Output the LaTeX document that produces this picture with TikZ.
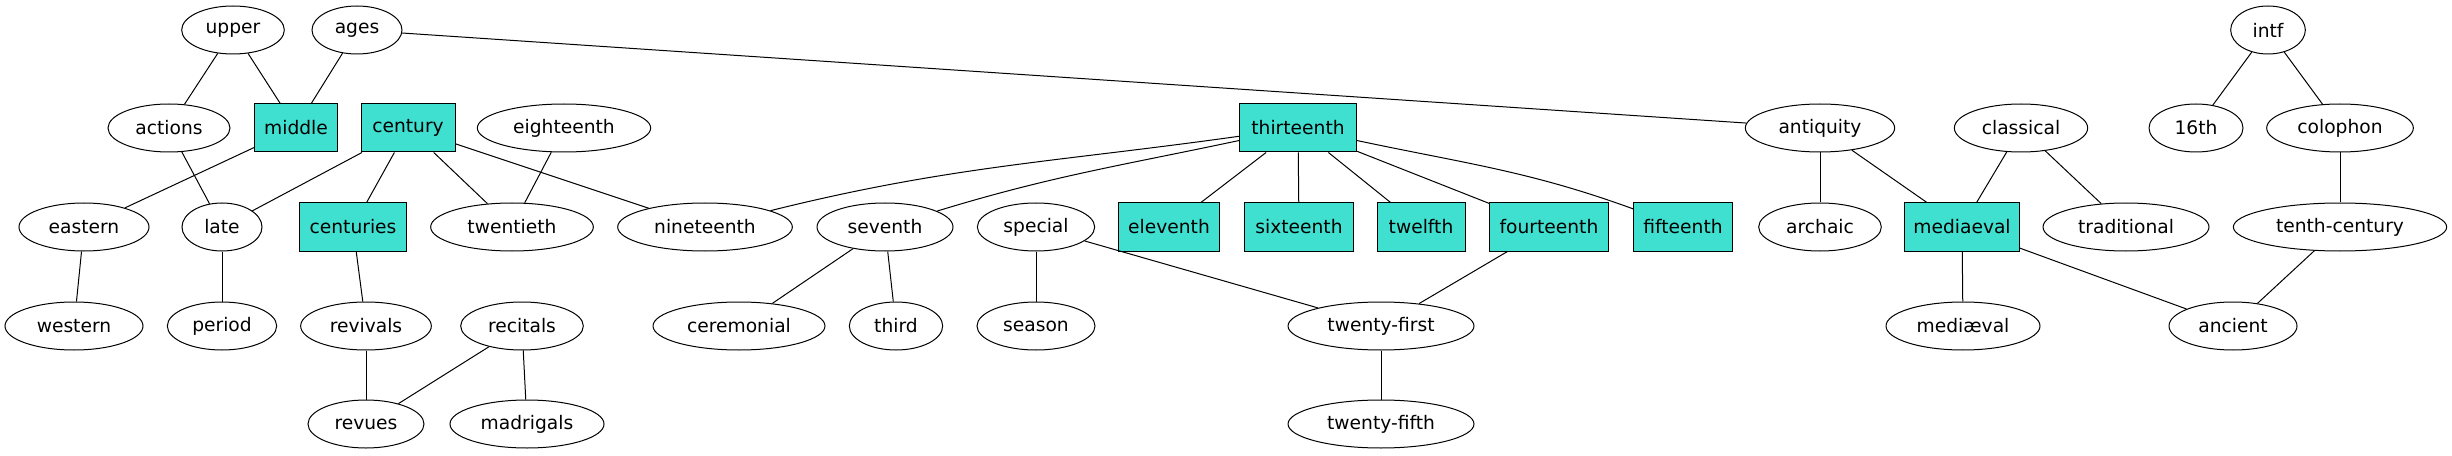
\documentclass[tikz,border=0pt]{standalone}
\usepackage{fontspec}
\setmainfont{DejaVu Sans}
\usetikzlibrary{shapes.geometric}
\definecolor{turq}{HTML}{40E0D0}
\tikzset{
  ell/.style={ellipse, draw=black, line width=0.75pt, minimum height=36pt, inner sep=0pt, font=\fontsize{14pt}{16pt}\selectfont},
  bx/.style={rectangle, draw=black, fill=turq, line width=0.75pt, minimum height=36pt, inner sep=0pt, font=\fontsize{14pt}{16pt}\selectfont},
  edge/.style={draw=black, line width=0.75pt}
}
\begin{document}
\begin{tikzpicture}[x=0.75pt, y=-0.75pt]
\useasboundingbox (0,0) rectangle (2452,456);
% row 1
\node[ell, minimum width=77pt] (upper) at (233,30) {upper};
\node[ell, minimum width=67.5pt] (ages) at (357,30) {ages};
\node[ell, minimum width=56pt] (intf) at (2268,30) {intf};
% row 2
\node[ell, minimum width=91.5pt] (actions) at (169,128) {actions};
\node[bx, minimum width=62pt] (middle) at (296,128) {middle};
\node[bx, minimum width=70.5pt] (century) at (408,128) {century};
\node[ell, minimum width=130pt] (eighteenth) at (564,128) {eighteenth};
\node[bx, minimum width=88pt] (thirteenth) at (1298,128) {thirteenth};
\node[ell, minimum width=112pt] (antiquity) at (1820,128) {antiquity};
\node[ell, minimum width=100pt] (classical) at (2021,128) {classical};
\node[ell, minimum width=70.5pt] (sixteenthnum) at (2196,128) {16th};
\node[ell, minimum width=110pt] (colophon) at (2340,128) {colophon};
% row 3
\node[ell, minimum width=97.5pt] (eastern) at (84,227) {eastern};
\node[ell, minimum width=60pt] (late) at (222,227) {late};
\node[bx, minimum width=80pt] (centuries) at (353,227) {centuries};
\node[ell, minimum width=122pt] (twentieth) at (512,227) {twentieth};
\node[ell, minimum width=131pt] (nineteenth) at (705,227) {nineteenth};
\node[ell, minimum width=102pt] (seventh) at (885,227) {seventh};
\node[ell, minimum width=88pt] (special) at (1036,227) {special};
\node[bx, minimum width=76pt] (eleventh) at (1169,227) {eleventh};
\node[bx, minimum width=82pt] (sixteenth) at (1299,227) {sixteenth};
\node[bx, minimum width=66pt] (twelfth) at (1421,227) {twelfth};
\node[bx, minimum width=89pt] (fourteenth) at (1549,227) {fourteenth};
\node[bx, minimum width=74pt] (fifteenth) at (1683,227) {fifteenth};
\node[ell, minimum width=92pt] (archaic) at (1820,227) {archaic};
\node[bx, minimum width=86pt] (mediaeval) at (1962,227) {mediaeval};
\node[ell, minimum width=124.5pt] (traditional) at (2126,227) {traditional};
\node[ell, minimum width=160pt] (tenthcentury) at (2340,227) {tenth-century};
% row 4
\node[ell, minimum width=103.5pt] (western) at (74,326) {western};
\node[ell, minimum width=82pt] (period) at (222,326) {period};
\node[ell, minimum width=98pt] (revivals) at (366,326) {revivals};
\node[ell, minimum width=92pt] (recitals) at (522,326) {recitals};
\node[ell, minimum width=129pt] (ceremonial) at (739,326) {ceremonial};
\node[ell, minimum width=70pt] (third) at (896,326) {third};
\node[ell, minimum width=88.5pt] (season) at (1036,326) {season};
\node[ell, minimum width=139.5pt] (twentyfirst) at (1381,326) {twenty-first};
\node[ell, minimum width=115.5pt] (mediaevallig) at (1963,326) {mediæval};
\node[ell, minimum width=96pt] (ancient) at (2233,326) {ancient};
% row 5
\node[ell, minimum width=87pt] (revues) at (366,424) {revues};
\node[ell, minimum width=115.5pt] (madrigals) at (527,424) {madrigals};
\node[ell, minimum width=139.5pt] (twentyfifth) at (1381,424) {twenty-fifth};
% edges
\draw[edge] (upper) -- (actions);
\draw[edge] (upper) -- (middle);
\draw[edge] (ages) -- (middle);
\draw[edge] (ages) -- (antiquity);
\draw[edge] (actions) -- (late);
\draw[edge] (middle) -- (eastern);
\draw[edge] (century) -- (late);
\draw[edge] (century) -- (centuries);
\draw[edge] (century) -- (twentieth);
\draw[edge] (century) -- (nineteenth);
\draw[edge] (eighteenth) -- (twentieth);
\draw[edge] (eastern) -- (western);
\draw[edge] (late) -- (period);
\draw[edge] (centuries) -- (revivals);
\draw[edge] (revivals) -- (revues);
\draw[edge] (recitals) -- (revues);
\draw[edge] (recitals) -- (madrigals);
\draw[edge] (thirteenth) to[out=188, in=14] (nineteenth);
\draw[edge] (thirteenth) to[out=192, in=17] (seventh);
\draw[edge] (thirteenth) -- (eleventh);
\draw[edge] (thirteenth) -- (sixteenth);
\draw[edge] (thirteenth) -- (twelfth);
\draw[edge] (thirteenth) -- (fourteenth);
\draw[edge] (thirteenth) to[out=-12, in=160] (fifteenth);
\draw[edge] (seventh) -- (ceremonial);
\draw[edge] (seventh) -- (third);
\draw[edge] (special) -- (season);
\draw[edge] (special) -- (twentyfirst);
\draw[edge] (fourteenth) -- (twentyfirst);
\draw[edge] (twentyfirst) -- (twentyfifth);
\draw[edge] (antiquity) -- (archaic);
\draw[edge] (antiquity) -- (mediaeval);
\draw[edge] (classical) -- (mediaeval);
\draw[edge] (classical) -- (traditional);
\draw[edge] (mediaeval) -- (mediaevallig);
\draw[edge] (mediaeval) -- (ancient);
\draw[edge] (intf) -- (sixteenthnum);
\draw[edge] (intf) -- (colophon);
\draw[edge] (colophon) -- (tenthcentury);
\draw[edge] (tenthcentury) -- (ancient);
\end{tikzpicture}
\end{document}
